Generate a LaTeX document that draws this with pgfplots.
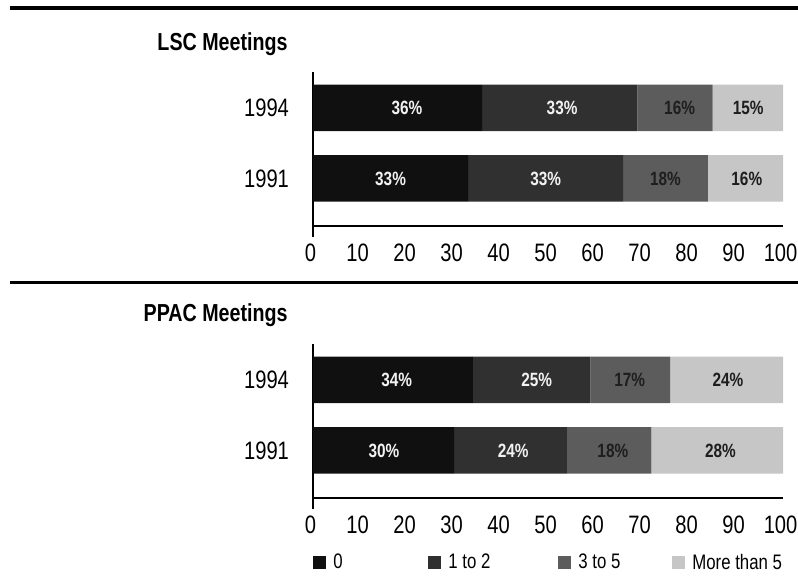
\documentclass[border=0pt]{standalone}
\usepackage{fontspec}
\setmainfont{Liberation Sans}[FakeStretch=0.8]
\usepackage{pgfplots}
\usepackage{pgfplotstable}
\pgfplotsset{compat=1.18}

\definecolor{c0}{HTML}{101010}
\definecolor{c1}{HTML}{303030}
\definecolor{c2}{HTML}{5C5C5C}
\definecolor{c3}{HTML}{C6C6C6}
\definecolor{lblwhite}{HTML}{F2F2F2}
\definecolor{lbldark}{HTML}{1E1E1E}

% shares of meetings attended, rows: 0 = 1991, 1 = 1994
\pgfplotstableread{
year zero onetwo threefive more
0    33   33     18        16
1    36   33     16        15
}\lsc
\pgfplotstableread{
year zero onetwo threefive more
0    30   24     18        28
1    34   25     17        24
}\ppac

% label positions (x) and texts
\pgfplotstableread{
year xa   xb   xc   xd   la  lb  lc  ld
0    16.5 49.5 75.0 92.3 33\% 33\% 18\% 16\%
1    20.0 53.0 78.0 92.6 36\% 33\% 16\% 15\%
}\lsclab
\pgfplotstableread{
year xa   xb   xc   xd   la  lb  lc  ld
0    15.1 42.6 63.8 86.7 30\% 24\% 18\% 28\%
1    17.8 47.6 67.4 88.3 34\% 25\% 17\% 24\%
}\ppaclab

\pgfplotsset{
  panel/.style={
    scale only axis, width=235pt, height=82.5pt,
    xmin=0, xmax=100, ymin=-0.83, ymax=1.51,
    axis line style={draw=none}, clip=false,
  },
  bars/.style={
    panel, xbar stacked, bar width=23.25pt,
    xtick={0,10,...,100}, ytick={0,1}, yticklabels={1991,1994},
    major tick length=0pt,
    /pgf/number format/assume math mode=true,
    tick label style={font=\fontsize{12.6}{14}\selectfont},
    xticklabel style={xshift=-1.2pt},
    yticklabel style={xshift=-8.5pt},
  },
  labels/.style={
    panel, hide axis,
    every node near coord/.style={anchor=center,
      font=\bfseries\fontsize{9.6}{11}\selectfont},
  },
}

\begin{document}
\begin{tikzpicture}[x=0.5pt, y=-0.5pt]
\path[use as bounding box] (0,0) rectangle (798,581);
\coordinate (P1) at (313,237);
\coordinate (P2) at (313,509);

\draw[line width=2pt] (10,8) -- (798,8);
\draw[line width=1.5pt] (10,283) -- (798,283);
\node[anchor=base east, inner sep=0pt, font=\bfseries\fontsize{12.3}{14}\selectfont]
  at (288,51) {LSC Meetings};
\node[anchor=base east, inner sep=0pt, font=\bfseries\fontsize{12.3}{14}\selectfont]
  at (288,322) {PPAC Meetings};

% LSC panel
\begin{axis}[bars, at={(P1)}, anchor=south west]
\addplot[fill=c0, draw=none] table[x=zero, y=year] \lsc;
\addplot[fill=c1, draw=none] table[x=onetwo, y=year] \lsc;
\addplot[fill=c2, draw=none] table[x=threefive, y=year] \lsc;
\addplot[fill=c3, draw=none] table[x=more, y=year] \lsc;
\draw[line width=1.2pt] (axis cs:0,-0.83) -- (axis cs:0,1.51);
\draw[line width=1pt] (axis cs:0,-0.674) -- (axis cs:100,-0.674);
\end{axis}
\begin{axis}[labels, at={(P1)}, anchor=south west]
\addplot[draw=none, mark=none, nodes near coords, point meta=explicit symbolic,
  every node near coord/.append style={text=lblwhite}]
  table[x=xa, y=year, meta=la] \lsclab;
\addplot[draw=none, mark=none, nodes near coords, point meta=explicit symbolic,
  every node near coord/.append style={text=lblwhite}]
  table[x=xb, y=year, meta=lb] \lsclab;
\addplot[draw=none, mark=none, nodes near coords, point meta=explicit symbolic,
  every node near coord/.append style={text=lbldark}]
  table[x=xc, y=year, meta=lc] \lsclab;
\addplot[draw=none, mark=none, nodes near coords, point meta=explicit symbolic,
  every node near coord/.append style={text=lbldark}]
  table[x=xd, y=year, meta=ld] \lsclab;
\end{axis}

% PPAC panel
\begin{axis}[bars, at={(P2)}, anchor=south west,
  legend style={at={(0,0)}, anchor=west, yshift=-27pt, draw=none, fill=none,
    legend columns=4, inner sep=0pt,
    font=\fontsize{10.5}{12}\selectfont, nodes={inner sep=0pt},
    /tikz/every odd column/.append style={column sep=3.5pt}},
  legend image code/.code={\fill[#1] (0pt,-3.25pt) rectangle (6.5pt,3.25pt);},
]
\addplot[fill=c0, draw=none] table[x=zero, y=year] \ppac;
\addlegendentry{\makebox[47.5pt][l]{0}}
\addplot[fill=c1, draw=none] table[x=onetwo, y=year] \ppac;
\addlegendentry{\makebox[55pt][l]{1 to 2}}
\addplot[fill=c2, draw=none] table[x=threefive, y=year] \ppac;
\addlegendentry{\makebox[47pt][l]{3 to 5}}
\addplot[fill=c3, draw=none] table[x=more, y=year] \ppac;
\addlegendentry{More than 5}
\draw[line width=1.2pt] (axis cs:0,-0.83) -- (axis cs:0,1.51);
\draw[line width=1pt] (axis cs:0,-0.674) -- (axis cs:100,-0.674);
\end{axis}
\begin{axis}[labels, at={(P2)}, anchor=south west]
\addplot[draw=none, mark=none, nodes near coords, point meta=explicit symbolic,
  every node near coord/.append style={text=lblwhite}]
  table[x=xa, y=year, meta=la] \ppaclab;
\addplot[draw=none, mark=none, nodes near coords, point meta=explicit symbolic,
  every node near coord/.append style={text=lblwhite}]
  table[x=xb, y=year, meta=lb] \ppaclab;
\addplot[draw=none, mark=none, nodes near coords, point meta=explicit symbolic,
  every node near coord/.append style={text=lbldark}]
  table[x=xc, y=year, meta=lc] \ppaclab;
\addplot[draw=none, mark=none, nodes near coords, point meta=explicit symbolic,
  every node near coord/.append style={text=lbldark}]
  table[x=xd, y=year, meta=ld] \ppaclab;
\end{axis}
\end{tikzpicture}
\end{document}
